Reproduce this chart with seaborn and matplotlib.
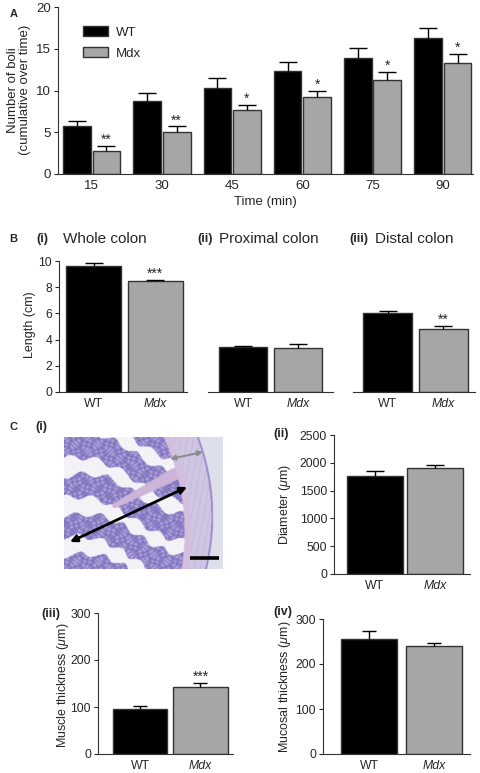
import numpy as np
import pandas as pd
import matplotlib
matplotlib.use("Agg")
import matplotlib.pyplot as plt
import seaborn as sns
from matplotlib.patches import Patch

# -----------------------------
# Data
# -----------------------------
times = ["15", "30", "45", "60", "75", "90"]
wt_boli = [5.7, 8.7, 10.3, 12.35, 13.95, 16.3]
wt_boli_sem = [0.65, 1.0, 1.15, 1.05, 1.1, 1.2]
mdx_boli = [2.8, 5.0, 7.65, 9.25, 11.2, 13.3]
mdx_boli_sem = [0.6, 0.7, 0.65, 0.72, 0.98, 1.1]
boli_stars = ["**", "**", "*", "*", "*", "*"]

groups = ["WT", "Mdx"]
whole_len = [9.62, 8.45]
whole_sem = [0.2, 0.1]
prox_len = [3.46, 3.38]
prox_sem = [0.08, 0.3]
dist_len = [6.0, 4.83]
dist_sem = [0.21, 0.23]
diameter = [1763, 1912]
diameter_sem = [96, 54]
muscle = [96, 142]
muscle_sem = [7, 8.5]
mucosal = [256, 239]
mucosal_sem = [17, 7]

# Plot style
sns.set_style("ticks")
plt.rcParams["font.family"] = ["Liberation Sans", "DejaVu Sans"]
plt.rcParams["mathtext.fontset"] = "custom"
plt.rcParams["mathtext.rm"] = "Liberation Sans"
plt.rcParams["mathtext.it"] = "Liberation Sans:italic"
plt.rcParams["axes.linewidth"] = 0.8
plt.rcParams["axes.edgecolor"] = "#333333"

W, H = 480, 773
BLACK = "#000000"
GREY = "#a6a6a6"
EDGE = "#333333"

fig = plt.figure(figsize=(W / 100, H / 100), dpi=100)


def px_axes(l, t, r, b):
    return fig.add_axes([l / W, 1 - b / H, (r - l) / W, (b - t) / H])


def err_up(ax, x, top, sem, capsize):
    ax.vlines(x, top, top + sem, color="black", lw=1.0, zorder=3)
    ax.plot([x], [top + sem], marker="_", markersize=2 * capsize,
            mew=1.0, color="black", zorder=3)


def style_ax(ax, ticksize, hide_left=False):
    sns.despine(ax=ax, left=hide_left)
    ax.set_xlabel("")
    ax.set_ylabel("")
    ax.tick_params(axis="x", length=0, labelsize=ticksize, pad=4)
    ax.tick_params(axis="y", length=3, width=0.8, labelsize=ticksize, pad=2)
    if hide_left:
        ax.tick_params(axis="y", left=False, labelleft=False)


def pair_panel(ax, means, sems, width, capsize, ylim, yticks,
               star=None, hide_left=False):
    df = pd.DataFrame({"group": groups, "value": means})
    sns.barplot(data=df, x="group", y="value", hue="group",
                palette=[BLACK, GREY], width=width, edgecolor=EDGE,
                linewidth=1.0, errorbar=None, legend=False,
                saturation=1, ax=ax)
    bars = sorted(ax.patches, key=lambda p: p.get_x())
    for bar, s in zip(bars, sems):
        xc = bar.get_x() + bar.get_width() / 2
        err_up(ax, xc, bar.get_height(), s, capsize)
    if star:
        bar = bars[1]
        ax.annotate(star, (bar.get_x() + bar.get_width() / 2,
                           bar.get_height() + sems[1]),
                    xytext=(0, 1.5), textcoords="offset points",
                    ha="center", va="baseline", fontsize=10)
    ax.set_ylim(*ylim)
    if yticks is not None:
        ax.set_yticks(yticks)
    style_ax(ax, 8.8, hide_left)
    ax.set_xticks([0, 1])
    ax.set_xticklabels(groups)
    ax.get_xticklabels()[1].set_fontstyle("italic")


# ============================================================
# PANEL A - cumulative boli
# ============================================================
axA = px_axes(58, 7, 473, 174)
boli_df = pd.DataFrame({
    "time": times * 2,
    "genotype": ["WT"] * 6 + ["Mdx"] * 6,
    "count": wt_boli + mdx_boli,
})
sns.barplot(data=boli_df, x="time", y="count", hue="genotype",
            palette=[BLACK, GREY], width=0.84, gap=0.06, edgecolor=EDGE,
            linewidth=1.0, errorbar=None, saturation=1, legend=False,
            ax=axA)
for cont, sems in zip(axA.containers, [wt_boli_sem, mdx_boli_sem]):
    for bar, s in zip(cont, sems):
        err_up(axA, bar.get_x() + bar.get_width() / 2, bar.get_height(), s, 6.5)
for bar, s, st in zip(axA.containers[1], mdx_boli_sem, boli_stars):
    axA.annotate(st, (bar.get_x() + bar.get_width() / 2, bar.get_height() + s),
                 xytext=(0, 1.5), textcoords="offset points",
                 ha="center", va="baseline", fontsize=10)
axA.set_ylim(0, 20)
axA.set_yticks([0, 5, 10, 15, 20])
axA.set_xlim(-0.48, 5.43)
style_ax(axA, 9.5)
axA.tick_params(axis="x", pad=4)
fig.text(265 / W, 1 - 202 / H, "Time (min)", ha="center", va="center",
         fontsize=9.5)
fig.text(19 / W, 1 - 90 / H, "Number of boli\n(cumulative over time)",
         rotation=90, ha="center", va="center", fontsize=9.5,
         linespacing=1.1)
axA.legend(handles=[Patch(facecolor=BLACK, edgecolor=EDGE, lw=1.0, label="WT"),
                    Patch(facecolor=GREY, edgecolor=EDGE, lw=1.0, label="Mdx")],
           loc="upper left", bbox_to_anchor=(83 / W, 1 - 26 / H),
           bbox_transform=fig.transFigure, frameon=False, fontsize=9.5,
           handlelength=1.9, handleheight=0.8, handletextpad=0.6,
           labelspacing=0.65, borderpad=0, borderaxespad=0)
fig.text(10 / W, 1 - 14 / H, "A", fontsize=8, weight="bold",
         ha="left", va="center")

# ============================================================
# PANEL B - colon length
# ============================================================
axB1 = px_axes(59, 261, 187, 392)
pair_panel(axB1, whole_len, whole_sem, 0.9, 6.5, (0, 10),
           [0, 2, 4, 6, 8, 10], star="***")
axB1.set_xlim(-0.57, 1.52)

axB2 = px_axes(208, 261, 333, 392)
pair_panel(axB2, prox_len, prox_sem, 0.87, 6.5, (0, 10), None,
           hide_left=True)
axB2.set_xlim(-0.64, 1.64)

axB3 = px_axes(353, 261, 475, 392)
pair_panel(axB3, dist_len, dist_sem, 0.88, 6.5, (0, 10), None,
           star="**", hide_left=True)
axB3.set_xlim(-0.62, 1.57)

fig.text(30 / W, 1 - 325 / H, "Length (cm)", rotation=90, ha="center",
         va="center", fontsize=9)
fig.text(9 / W, 1 - 239 / H, "B", fontsize=8, weight="bold", va="center")
for xl, lab, xt, title in [(36, "(i)", 63, "Whole colon"),
                           (197, "(ii)", 219, "Proximal colon"),
                           (349, "(iii)", 375, "Distal colon")]:
    fig.text(xl / W, 1 - 239 / H, lab, fontsize=9, weight="bold", va="center")
    fig.text(xt / W, 1 - 239 / H, title, fontsize=11, va="center")

# ============================================================
# PANEL C(i) - histology section (drawn schematically)
# ============================================================
axI = px_axes(64, 437, 223, 569)
ny, nx = 264, 318
v, u = np.mgrid[0:1:ny * 1j, 0:1:nx * 1j]
u_edge = 0.85 + 0.09 * (1 - (v - 0.6) ** 2 / 0.36)
u_in = u_edge - 0.18 + 0.06 * v
img = np.zeros((ny, nx, 3))
img[:] = (0.87, 0.88, 0.92)
tissue = u < u_edge
img[tissue] = (0.82, 0.78, 0.89)
streak = tissue & (u > u_in) & (np.sin(2 * np.pi * (26 * u + 4 * v)) > 0.8)
img[streak] = (0.78, 0.73, 0.87)
serosa = tissue & (u > u_edge - 0.012)
img[serosa] = (0.60, 0.54, 0.79)
d = u_in - u
folds = (np.sin(2 * np.pi * (3.3 * v - 1.1 * u) + 1.4 * np.sin(7 * u))
         + 0.4 * np.sin(2 * np.pi * (6 * u + 2 * v) + 2 * np.cos(5 * v)))
tex = (np.sin(2 * np.pi * 21 * u + 2 * np.sin(2 * np.pi * 9 * v))
       * np.sin(2 * np.pi * 19 * v + 2 * np.sin(2 * np.pi * 7 * u)))
mucosa = (d > 0) & (folds > -0.45 + 1.2 * np.clip(d - 0.45, 0, 1))
img[d > 0] = (0.95, 0.95, 0.97)
img[mucosa] = (0.56, 0.51, 0.78)
img[mucosa & (tex > 0.5)] = (0.70, 0.66, 0.86)
img[mucosa & (tex < -0.6)] = (0.48, 0.43, 0.74)
# pink stroma core of the large fold
px0, py0, px1, py1 = 0.70, 0.28, 0.32, 0.52
t = np.clip(((u - px0) * (px1 - px0) + (v - py0) * (py1 - py0))
            / ((px1 - px0) ** 2 + (py1 - py0) ** 2), 0, 1)
dist = np.hypot(u - (px0 + t * (px1 - px0)), v - (py0 + t * (py1 - py0)))
img[(d > 0) & (dist < 0.045 * (1 - 0.6 * t))] = (0.80, 0.71, 0.85)
img[(d > 0) & (d < 0.04)] = (0.83, 0.75, 0.87)
axI.imshow(img, extent=(64, 223, 569, 437), aspect="auto",
           interpolation="bilinear")
axI.set_xlim(64, 223)
axI.set_ylim(569, 437)
axI.axis("off")
axI.annotate("", xy=(70, 542), xytext=(187, 487),
             arrowprops=dict(arrowstyle="<|-|>", color="black", lw=2,
                             mutation_scale=10, shrinkA=0, shrinkB=0))
axI.annotate("", xy=(170, 459), xytext=(203, 452),
             arrowprops=dict(arrowstyle="<|-|>", color="#8c8c8c", lw=1.5,
                             mutation_scale=7, shrinkA=0, shrinkB=0))
axI.plot([190, 219], [558, 558], color="black", lw=2.6,
         solid_capstyle="butt")
fig.text(9 / W, 1 - 427 / H, "C", fontsize=8, weight="bold", va="center")
fig.text(35 / W, 1 - 427 / H, "(i)", fontsize=9, weight="bold", va="center")

# ============================================================
# PANEL C(ii)-(iv)
# ============================================================
axC2 = px_axes(334, 435, 470, 574)
pair_panel(axC2, diameter, diameter_sem, 0.93, 6.5, (0, 2500),
           [0, 500, 1000, 1500, 2000, 2500])
axC2.set_xlim(-0.68, 1.58)
fig.text(285 / W, 1 - 504 / H, r"Diameter ($\mu$m)", rotation=90,
         ha="center", va="center", fontsize=9)
fig.text(273 / W, 1 - 434 / H, "(ii)", fontsize=9, weight="bold",
         va="center")

axC3 = px_axes(98, 613, 233, 754)
pair_panel(axC3, muscle, muscle_sem, 0.9, 5, (0, 300), [0, 100, 200, 300],
           star="***")
axC3.set_xlim(-0.70, 1.54)
fig.text(63 / W, 1 - 685 / H, r"Muscle thickness ($\mu$m)", rotation=90,
         ha="center", va="center", fontsize=9)
fig.text(41 / W, 1 - 614 / H, "(iii)", fontsize=9, weight="bold",
         va="center")

axC4 = px_axes(323, 619, 470, 754)
pair_panel(axC4, mucosal, mucosal_sem, 0.86, 5, (0, 300), [0, 100, 200, 300])
axC4.set_xlim(-0.71, 1.55)
fig.text(285 / W, 1 - 687 / H, r"Mucosal thickness ($\mu$m)", rotation=90,
         ha="center", va="center", fontsize=9)
fig.text(273 / W, 1 - 612 / H, "(iv)", fontsize=9, weight="bold",
         va="center")

fig.savefig("out.png", dpi=100)
plt.close(fig)
